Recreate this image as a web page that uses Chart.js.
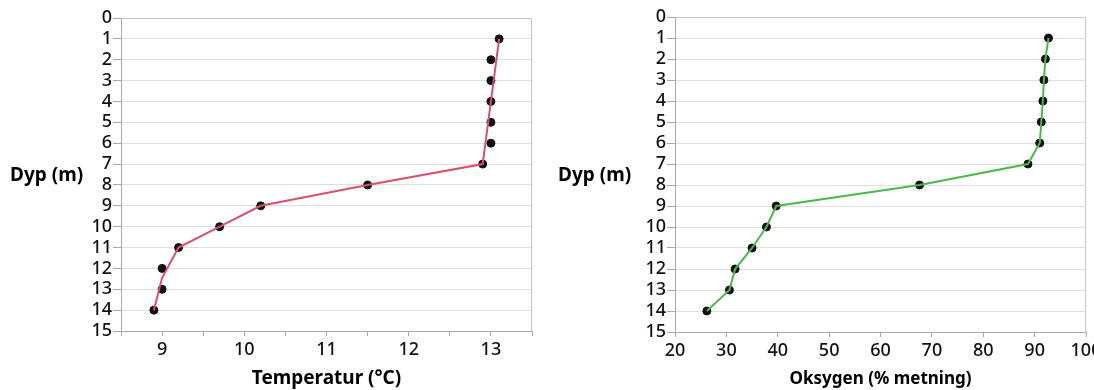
<!DOCTYPE html>
<html>
<head>
<meta charset="utf-8">
<script src="https://cdn.jsdelivr.net/npm/chart.js@4.4.1/dist/chart.umd.min.js"></script>
<style>
  html, body { margin: 0; padding: 0; background: #fff; }
  #wrap { position: relative; width: 1094px; height: 390px; overflow: hidden; }
  .box { position: absolute; top: 0; height: 390px; }
</style>
</head>
<body>
<div id="wrap">
  <div class="box" style="left:0;width:545px"><canvas id="tempChart" width="545" height="390"></canvas></div>
  <div class="box" style="left:545px;width:549px"><canvas id="oxyChart" width="549" height="390"></canvas></div>
</div>
<script>
// measured depths (m)
const depths = [1, 2, 3, 4, 5, 6, 7, 8, 9, 10, 11, 12, 13, 14];
const temperature = [13.1, 13.0, 13.0, 13.0, 13.0, 13.0, 12.9, 11.5, 10.2, 9.7, 9.2, 9.0, 9.0, 8.9];
// the red curve skips some points (fitted line)
const tempLineDepths = [1, 7, 8, 9, 10, 11, 12.45, 14];
const tempLineValues = [13.1, 12.9, 11.5, 10.2, 9.7, 9.2, 9.0, 8.9];
const oxygen = [92.7, 92.1, 91.8, 91.6, 91.3, 91.0, 88.7, 67.6, 39.7, 37.8, 35.0, 31.7, 30.6, 26.2];

const FONT = '"Noto Sans", "Open Sans", sans-serif';
const tickColor = '#111';
const axisGray = '#a8a8a8';
const gridGray = '#dedede';

const pts = (xs, ys) => xs.map((x, i) => ({ x: x, y: ys[i] }));

// frame + titles drawn on the canvas
const framePlugin = {
  id: 'frame',
  afterDraw(chart, args, opts) {
    const { ctx, chartArea: a } = chart;
    ctx.save();
    ctx.strokeStyle = '#c4c4c4';
    ctx.lineWidth = 1;
    ctx.beginPath();
    ctx.moveTo(a.left, a.top + 0.5);
    ctx.lineTo(a.right - 0.5, a.top + 0.5);
    ctx.lineTo(a.right - 0.5, a.bottom);
    ctx.stroke();

    ctx.fillStyle = '#000';
    ctx.font = 'bold 19px ' + FONT;
    ctx.textAlign = 'left';
    ctx.textBaseline = 'middle';
    ctx.fillText('Dyp (m)', opts.yTitleX, 176);

    ctx.font = 'bold ' + opts.xTitleSize + 'px ' + FONT;
    ctx.textAlign = 'center';
    ctx.fillText(opts.xTitle, (a.left + a.right) / 2, 379);
    ctx.restore();
  }
};

function makeChart(id, cfg) {
  return new Chart(document.getElementById(id), {
    type: 'scatter',
    data: {
      datasets: [
        {
          data: cfg.line,
          showLine: true,
          borderColor: cfg.lineColor,
          borderWidth: 2,
          pointRadius: 0,
          order: 0
        },
        {
          data: cfg.points,
          showLine: false,
          pointRadius: 4,
          pointBackgroundColor: '#111',
          pointBorderColor: '#111',
          pointBorderWidth: 1,
          order: 1
        }
      ]
    },
    options: {
      responsive: false,
      animation: false,
      layout: { padding: { top: cfg.padTop, right: cfg.padRight, bottom: 0, left: 0 } },
      plugins: {
        legend: { display: false },
        tooltip: { enabled: false },
        frame: { yTitleX: cfg.yTitleX, xTitle: cfg.xTitle, xTitleSize: cfg.xTitleSize }
      },
      scales: {
        x: {
          type: 'linear',
          min: cfg.xMin,
          max: cfg.xMax,
          ticks: {
            stepSize: cfg.xStep,
            autoSkip: false,
            maxRotation: 0,
            color: tickColor,
            padding: 3,
            font: { family: FONT, size: 18, weight: '500' },
            callback: v => Number.isInteger(v) ? v : ''
          },
          grid: { drawOnChartArea: false, tickLength: 5, color: axisGray },
          border: { color: axisGray },
          afterFit: s => { s.height = cfg.xHeight; s.paddingLeft = 0; s.paddingRight = 0; }
        },
        y: {
          type: 'linear',
          reverse: true,
          min: 0,
          max: 15,
          ticks: {
            stepSize: 1,
            autoSkip: false,
            color: tickColor,
            padding: 1,
            font: { family: FONT, size: 18, weight: '500' }
          },
          grid: { color: gridGray, tickColor: axisGray, tickLength: 8 },
          border: { color: axisGray },
          afterFit: s => { s.width = cfg.yWidth; }
        }
      }
    },
    plugins: [framePlugin]
  });
}

makeChart('tempChart', {
  points: pts(temperature, depths),
  line: pts(tempLineValues, tempLineDepths),
  lineColor: '#d9506a',
  xMin: 8.5, xMax: 13.5, xStep: 0.5,
  yWidth: 121, padRight: 13, padTop: 18, xHeight: 59,
  yTitleX: 10,
  xTitle: 'Temperatur (°C)', xTitleSize: 19
});

makeChart('oxyChart', {
  points: pts(oxygen, depths),
  line: pts(oxygen, depths),
  lineColor: '#4cb84c',
  xMin: 20, xMax: 100, xStep: 10,
  yWidth: 130, padRight: 8, padTop: 17, xHeight: 58,
  yTitleX: 13,
  xTitle: 'Oksygen (% metning)', xTitleSize: 17
});
</script>
</body>
</html>
